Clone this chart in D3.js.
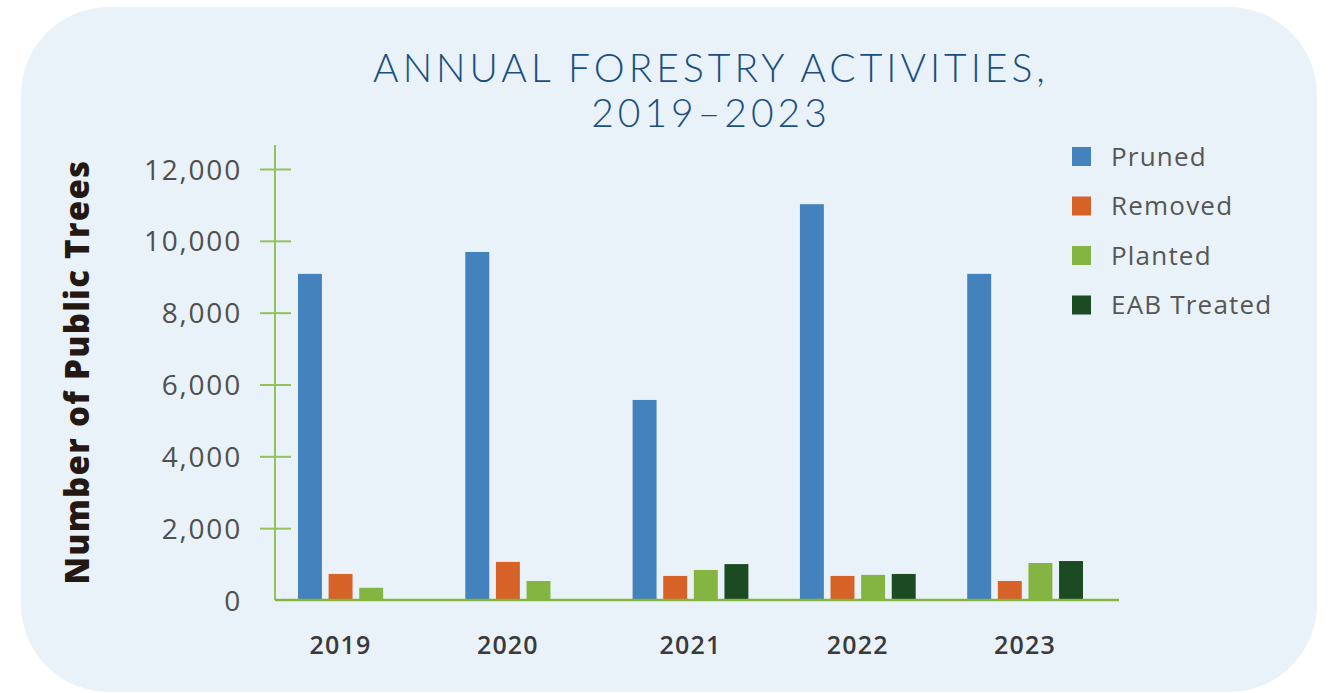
<!DOCTYPE html>
<html>
<head>
<meta charset="utf-8">
<script src="https://cdn.jsdelivr.net/npm/d3@7"></script>
<style>
  body { margin: 0; background: #ffffff; }
  svg { display: block; }
</style>
</head>
<body>
<div id="chart"></div>
<script>
// data
var years = ["2019", "2020", "2021", "2022", "2023"];
var series = ["Pruned", "Removed", "Planted", "EAB Treated"];
var pruned = [9080, 9690, 5570, 11020, 9080];
var removed = [725, 1060, 670, 670, 530];
var planted = [340, 530, 835, 700, 1030];
var eabTreated = [0, 0, 1000, 725, 1085];
var colors = ["#4482bd", "#d66228", "#84b441", "#1b4a23"];
var yTicks = [0, 2000, 4000, 6000, 8000, 10000, 12000];

var W = 1330, H = 693;
var margin = { top: 169, right: 247, bottom: 93, left: 275 };

var svg = d3.select("#chart").append("svg")
  .attr("width", W)
  .attr("height", H);

// card background
svg.append("rect")
  .attr("x", 21).attr("y", 7)
  .attr("width", 1296).attr("height", 685)
  .attr("rx", 88).attr("ry", 88)
  .style("fill", "#e9f2f8");

// title
var title = svg.append("text")
  .attr("text-anchor", "middle")
  .style("font-family", "Lato, 'Open Sans', sans-serif")
  .style("font-weight", 300)
  .style("font-size", "39px")
  .style("letter-spacing", "4px")
  .style("fill", "#1b4f82");
title.append("tspan").attr("x", 711).attr("y", 82).text("ANNUAL FORESTRY ACTIVITIES,");
title.append("tspan").attr("x", 711).attr("y", 127).text("2019\u20132023");

var table = years.map(function (yr, i) {
  return { year: yr, values: [pruned[i], removed[i], planted[i], eabTreated[i]] };
});

// scales
var y = d3.scaleLinear()
  .domain([0, 12000])
  .range([H - margin.bottom, margin.top]);

var x0 = d3.scaleBand()
  .domain(years)
  .range([298, 1083])
  .paddingInner(0.308)
  .paddingOuter(0);

var x1 = d3.scaleBand()
  .domain(series)
  .range([0, x0.bandwidth()])
  .paddingInner(0.218)
  .paddingOuter(0);

// y axis
var yAxis = svg.append("g")
  .attr("transform", "translate(" + margin.left + ",0)")
  .call(d3.axisLeft(y).tickValues(yTicks).tickFormat(d3.format(",")).tickSize(0));
yAxis.select(".domain").remove();
yAxis.selectAll(".tick text")
  .attr("x", -33)
  .attr("dy", "0.36em")
  .style("font-family", "'Open Sans', sans-serif")
  .style("font-size", "28px")
  .style("letter-spacing", "1.8px")
  .style("fill", "#4f4f4f");
yAxis.selectAll(".tick")
  .filter(function (d) { return d > 0; })
  .append("line")
  .attr("x1", -15).attr("x2", 16)
  .style("stroke", "#92c25c")
  .style("stroke-width", 2);
yAxis.append("line")
  .attr("y1", 145).attr("y2", y(0))
  .style("stroke", "#92c25c")
  .style("stroke-width", 2);

// axis title
svg.append("text")
  .attr("transform", "translate(89,372) rotate(-90)")
  .attr("text-anchor", "middle")
  .style("font-family", "'Open Sans', sans-serif")
  .style("font-weight", 800)
  .style("font-size", "33px")
  .style("letter-spacing", "1.3px")
  .style("fill", "#241812")
  .text("Number of Public Trees");

// bars
var groups = svg.selectAll(".grp")
  .data(table)
  .enter()
  .append("g")
  .attr("class", "grp")
  .attr("transform", function (d) { return "translate(" + x0(d.year) + ",0)"; });

groups.selectAll("rect")
  .data(function (d) {
    return d.values.map(function (v, k) { return { key: series[k], value: v, idx: k }; })
      .filter(function (e) { return e.value > 0; });
  })
  .enter()
  .append("rect")
  .attr("x", function (d) { return x1(d.key); })
  .attr("y", function (d) { return y(d.value); })
  .attr("width", x1.bandwidth())
  .attr("height", function (d) { return y(0) - y(d.value); })
  .style("fill", function (d) { return colors[d.idx]; });

// x axis baseline
svg.append("line")
  .attr("x1", margin.left).attr("x2", 1119)
  .attr("y1", y(0)).attr("y2", y(0))
  .style("stroke", "#85b440")
  .style("stroke-width", 2.5);

// year labels centred on the bars that are present
groups.append("text")
  .attr("x", function (d) {
    var n = d.values.filter(function (v) { return v > 0; }).length;
    return (x1(series[0]) + x1(series[n - 1]) + x1.bandwidth()) / 2;
  })
  .attr("y", 654)
  .attr("text-anchor", "middle")
  .style("font-family", "'Open Sans', sans-serif")
  .style("font-weight", 600)
  .style("font-size", "25px")
  .style("letter-spacing", "1.2px")
  .style("fill", "#3a3a3a")
  .text(function (d) { return d.year; });

// legend
var legend = svg.selectAll(".legend")
  .data(series)
  .enter()
  .append("g")
  .attr("class", "legend")
  .attr("transform", function (d, i) { return "translate(1072," + (147 + i * 49.5) + ")"; });

legend.append("rect")
  .attr("width", 19).attr("height", 19)
  .style("fill", function (d, i) { return colors[i]; });

legend.append("text")
  .attr("x", 39)
  .attr("y", 9.5)
  .attr("dy", "0.36em")
  .style("font-family", "'Open Sans', sans-serif")
  .style("font-size", "26px")
  .style("letter-spacing", "1.2px")
  .style("fill", "#565656")
  .text(function (d) { return d; });
</script>
</body>
</html>
